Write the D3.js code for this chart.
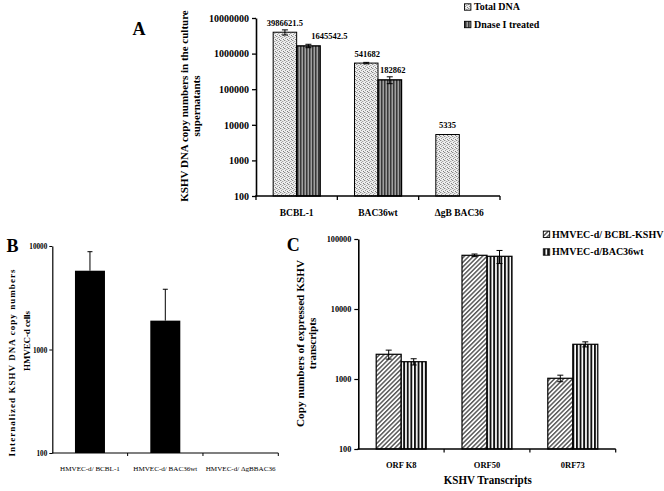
<!DOCTYPE html>
<html><head><meta charset="utf-8">
<script src="https://cdn.jsdelivr.net/npm/d3@7"></script>
<style>body{margin:0;background:#fff} svg{display:block} text{font-family:"Liberation Serif","Times New Roman",serif}</style>
</head><body><svg id="c" width="664" height="491"></svg>
<script>
// ---------- DATA ----------
// Panel A
const catsA = ["BCBL-1", "BAC36wt", "\u0394gB BAC36"];
const seriesA = ["Total DNA", "Dnase I treated"];
const totalDNA = [3986621.5, 541682, 5335];
const totalDNAErr = [650000, 25000, 0];
const dnaseTreated = [1645542.5, 182862, null];
const dnaseTreatedErr = [180000, 40000, 0];
const ticksA = [100, 1000, 10000, 100000, 1000000, 10000000];
// Panel B
const catsB = ["HMVEC-d/ BCBL-1", "HMVEC-d/ BAC36wt", "HMVEC-d/ \u0394gBBAC36"];
const internalized = [5770, 1900, null];
const internalizedErr = [3040, 1920, 0];
const ticksB = [100, 1000, 10000];
// Panel C
const catsC = ["ORF K8", "ORF50", "0RF73"];
const seriesC = ["HMVEC-d/ BCBL-KSHV", "HMVEC-d/BAC36wt"];
const bcblKSHV = [2255, 58500, 1024];
const bcblKSHVErr = [330, 2500, 110];
const bac36wt = [1766, 56600, 3133];
const bac36wtErr = [180, 12000, 260];
const ticksC = [100, 1000, 10000, 100000];

// ---------- DRAWING ----------
const svg = d3.select("#c");
const defs = svg.append("defs");
const FONT = '"Liberation Serif","Times New Roman",serif';

// patterns
const p1 = defs.append("pattern").attr("id", "stip").attr("patternUnits", "userSpaceOnUse").attr("width", 4).attr("height", 4);
p1.append("rect").attr("width", 4).attr("height", 4).attr("fill", "#eeeeee");
[[0,0,"#8a8a8a"],[2,1,"#a8a8a8"],[1,2,"#9a9a9a"],[3,3,"#7c7c7c"],[3,1,"#d0d0d0"],[1,0,"#c8c8c8"]].forEach(([x,y,c]) =>
  p1.append("rect").attr("x", x).attr("y", y).attr("width", 1).attr("height", 1).attr("fill", c));
const p2 = defs.append("pattern").attr("id", "vstripeA").attr("patternUnits", "userSpaceOnUse").attr("width", 3).attr("height", 10);
p2.append("rect").attr("width", 3).attr("height", 10).attr("fill", "#a0a0a0");
p2.append("rect").attr("width", 1.5).attr("height", 10).attr("fill", "#383838");
const p3 = defs.append("pattern").attr("id", "diag").attr("patternUnits", "userSpaceOnUse").attr("width", 3.2).attr("height", 3.2).attr("patternTransform", "rotate(45)");
p3.append("rect").attr("width", 3.2).attr("height", 3.2).attr("fill", "#ffffff");
p3.append("rect").attr("width", 1.5).attr("height", 3.2).attr("fill", "#5a5a5a");
const p4 = defs.append("pattern").attr("id", "vstripeC").attr("patternUnits", "userSpaceOnUse").attr("width", 3.6).attr("height", 10);
p4.append("rect").attr("width", 3.6).attr("height", 10).attr("fill", "#ffffff");
p4.append("rect").attr("width", 1.9).attr("height", 10).attr("fill", "#111111");

function styleYAxis(g, size, bold, compress) {
  g.attr("font-family", FONT).attr("font-size", size).attr("font-weight", bold ? "bold" : "normal");
  g.selectAll("text").attr("fill", "#000");
  if (compress) g.selectAll("text").each(function () {
    const t = d3.select(this); t.attr("textLength", t.text().length * compress).attr("lengthAdjust", "spacingAndGlyphs");
  });
}
function errBar(g, cx, y, v, e, cap, upOnly) {
  const top = y(v + e), bot = upOnly ? y(v) : y(Math.max(v - e, 1e-9));
  g.append("line").attr("x1", cx).attr("x2", cx).attr("y1", top).attr("y2", bot).attr("stroke", "#000").attr("stroke-width", 1);
  g.append("line").attr("x1", cx - cap / 2).attr("x2", cx + cap / 2).attr("y1", top).attr("y2", top).attr("stroke", "#000").attr("stroke-width", 1);
  if (!upOnly) g.append("line").attr("x1", cx - cap / 2).attr("x2", cx + cap / 2).attr("y1", bot).attr("y2", bot).attr("stroke", "#000").attr("stroke-width", 1);
}
function rotText(g, x, y, txt, size, opts = {}) {
  const t = g.append("text").attr("transform", `translate(${x},${y}) rotate(-90)`).attr("text-anchor", "middle")
    .attr("font-family", FONT).attr("font-size", size).attr("font-weight", "bold").text(txt);
  if (opts.len) t.attr("textLength", opts.len).attr("lengthAdjust", opts.adjust || "spacing");
  return t;
}

// ===== Panel A =====
(function () {
  const g = svg.append("g");
  const y = d3.scaleLog().domain([100, 1e7]).range([196, 18]);
  const x = d3.scaleBand().domain(catsA).range([256, 500]);
  const x1 = d3.scaleBand().domain(seriesA).range([0, x.bandwidth()]).paddingOuter(0.73);
  const vals = [totalDNA, dnaseTreated], errs = [totalDNAErr, dnaseTreatedErr], fills = ["url(#stip)", "url(#vstripeA)"];
  const labelShift = [[0, 1, 0], [21, 3, 0]];
  seriesA.forEach((s, si) => {
    catsA.forEach((c, ci) => {
      const v = vals[si][ci];
      if (v == null) return;
      const bx = x(c) + x1(s), bw = x1.bandwidth();
      g.append("rect").attr("x", bx).attr("y", y(v)).attr("width", bw).attr("height", y(100) - y(v))
        .attr("fill", fills[si]).attr("stroke", "#000").attr("stroke-width", si ? 1.4 : 1);
      if (errs[si][ci] > 0) errBar(g, bx + bw / 2, y, v, errs[si][ci], 6, false);
      g.append("text").attr("x", bx + bw / 2 + labelShift[si][ci]).attr("y", y(v) - 6.5).attr("text-anchor", "middle")
        .attr("font-family", FONT).attr("font-size", 8.5).attr("font-weight", "bold").text(String(v));
    });
  });
  const ya = g.append("g").attr("transform", "translate(256,0)")
    .call(d3.axisLeft(y).tickValues(ticksA).tickFormat(d3.format("d")).tickSize(4).tickSizeOuter(0).tickPadding(3));
  ya.select(".domain").attr("stroke-width", 1.6);
  ya.selectAll(".tick line").attr("stroke-width", 1.3);
  styleYAxis(ya, 10, true);
  g.append("line").attr("x1", 255.2).attr("x2", 500).attr("y1", 196).attr("y2", 196).attr("stroke", "#000").attr("stroke-width", 1.6);
  d3.range(catsA.length + 1).forEach(i => {
    const xx = x.range()[0] + i * x.step();
    g.append("line").attr("x1", xx).attr("x2", xx).attr("y1", 196).attr("y2", 200).attr("stroke", "#000").attr("stroke-width", 1.3);
  });
  const xa = g.append("g").attr("transform", "translate(0,196)").call(d3.axisBottom(x).tickSize(0).tickPadding(13));
  xa.select(".domain").remove();
  xa.attr("font-family", FONT).attr("font-size", 9.5).attr("font-weight", "bold");
  xa.selectAll("text").attr("fill", "#000");
  // title
  rotText(g, 188, 106, "KSHV DNA copy numbers in the culture", 11);
  rotText(g, 200, 106, "supernatants", 11);
  g.append("text").attr("x", 139).attr("y", 35).attr("text-anchor", "middle").attr("font-family", FONT)
    .attr("font-size", 18).attr("font-weight", "bold").text("A");
  // legend
  seriesA.forEach((s, si) => {
    const ly = 7 + si * 17.5;
    g.append("rect").attr("x", 464.5).attr("y", ly - 3.2).attr("width", 6.4).attr("height", 6.4)
      .attr("fill", fills[si]).attr("stroke", "#000").attr("stroke-width", 0.9);
    g.append("text").attr("x", 474).attr("y", ly + 3.4).attr("font-family", FONT).attr("font-size", 10)
      .attr("font-weight", "bold").text(s);
  });
})();

// ===== Panel B =====
(function () {
  const g = svg.append("g");
  const y = d3.scaleLog().domain([100, 10000]).range([453, 246]);
  const x = d3.scaleBand().domain(catsB).range([52.3, 278.3]);
  const barW = 30;
  catsB.forEach((c, ci) => {
    const v = internalized[ci];
    if (v == null) return;
    const bx = x(c) + (x.bandwidth() - barW) / 2;
    errBar(g, bx + barW / 2, y, v, internalizedErr[ci], 5, true);
    g.append("rect").attr("x", bx).attr("y", y(v)).attr("width", barW).attr("height", y(100) - y(v)).attr("fill", "#000");
  });
  const ya = g.append("g").attr("transform", "translate(52.3,0)")
    .call(d3.axisLeft(y).tickValues(ticksB).tickFormat(d3.format("d")).tickSize(3).tickSizeOuter(0).tickPadding(2));
  ya.select(".domain").attr("stroke-width", 1.2);
  styleYAxis(ya, 8.5, true, 3.6);
  g.append("line").attr("x1", 52).attr("x2", 278.3).attr("y1", 453).attr("y2", 453).attr("stroke", "#000").attr("stroke-width", 1.2);
  d3.range(1, catsB.length + 1).forEach(i => {
    const xx = x.range()[0] + i * x.step();
    g.append("line").attr("x1", xx).attr("x2", xx).attr("y1", 453).attr("y2", 456).attr("stroke", "#000").attr("stroke-width", 1);
  });
  const xa = g.append("g").attr("transform", "translate(0,453)").call(d3.axisBottom(x).tickSize(0).tickPadding(12.5));
  xa.select(".domain").remove();
  xa.attr("font-family", FONT).attr("font-size", 7.1).attr("font-weight", "normal");
  xa.selectAll("text").attr("fill", "#000");
  rotText(g, 15, 363, "Internalized KSHV DNA copy numbers", 9, { len: 187 });
  rotText(g, 29.5, 341, "HMVEC-d cells", 9, { len: 60 });
  g.append("text").attr("x", 12.5).attr("y", 251.7).attr("text-anchor", "middle").attr("font-family", FONT)
    .attr("font-size", 18).attr("font-weight", "bold").text("B");
})();

// ===== Panel C =====
(function () {
  const g = svg.append("g");
  const y = d3.scaleLog().domain([100, 100000]).range([449, 239]);
  const x = d3.scaleBand().domain(catsC).range([358.3, 615.7]);
  const x1 = d3.scaleBand().domain(seriesC).range([0, x.bandwidth()]).paddingOuter(0.716);
  const vals = [bcblKSHV, bac36wt], errs = [bcblKSHVErr, bac36wtErr], fills = ["url(#diag)", "url(#vstripeC)"];
  seriesC.forEach((s, si) => {
    catsC.forEach((c, ci) => {
      const v = vals[si][ci];
      const bx = x(c) + x1(s), bw = x1.bandwidth();
      g.append("rect").attr("x", bx).attr("y", y(v)).attr("width", bw).attr("height", y(100) - y(v))
        .attr("fill", fills[si]).attr("stroke", "#000").attr("stroke-width", 1.2);
      errBar(g, bx + bw / 2, y, v, errs[si][ci], 6, false);
    });
  });
  const ya = g.append("g").attr("transform", "translate(358.3,0)")
    .call(d3.axisLeft(y).tickValues(ticksC).tickFormat(d3.format("d")).tickSize(4).tickSizeOuter(0).tickPadding(3));
  ya.select(".domain").attr("stroke-width", 1.6);
  ya.selectAll(".tick line").attr("stroke-width", 1.2);
  styleYAxis(ya, 8, true, 4.1);
  g.append("line").attr("x1", 357.5).attr("x2", 615.7).attr("y1", 449).attr("y2", 449).attr("stroke", "#000").attr("stroke-width", 1.6);
  d3.range(1, catsC.length + 1).forEach(i => {
    const xx = x.range()[0] + i * x.step();
    g.append("line").attr("x1", xx).attr("x2", xx).attr("y1", 449).attr("y2", 452.5).attr("stroke", "#000").attr("stroke-width", 1.2);
  });
  const xa = g.append("g").attr("transform", "translate(0,449)").call(d3.axisBottom(x).tickSize(0).tickPadding(12.5));
  xa.select(".domain").remove();
  xa.attr("font-family", FONT).attr("font-size", 8.5).attr("font-weight", "bold");
  xa.selectAll("text").attr("fill", "#000");
  g.append("text").attr("x", 487.7).attr("y", 484).attr("text-anchor", "middle").attr("font-family", FONT)
    .attr("font-size", 12).attr("font-weight", "bold").attr("textLength", 88).attr("lengthAdjust", "spacingAndGlyphs").text("KSHV Transcripts");
  rotText(g, 303.5, 343.5, "Copy numbers of expressed KSHV", 11, { len: 167, adjust: "spacingAndGlyphs" });
  rotText(g, 315.5, 343.5, "transcripts", 11);
  g.append("text").attr("x", 293.3).attr("y", 250.7).attr("text-anchor", "middle").attr("font-family", FONT)
    .attr("font-size", 18).attr("font-weight", "bold").text("C");
  seriesC.forEach((s, si) => {
    const ly = 234.3 + si * 17.7;
    g.append("rect").attr("x", 543.3).attr("y", ly - 3.2).attr("width", 6.4).attr("height", 6.4)
      .attr("fill", fills[si]).attr("stroke", "#000").attr("stroke-width", 0.9);
    g.append("text").attr("x", 552).attr("y", ly + 3.4).attr("font-family", FONT).attr("font-size", 10)
      .attr("font-weight", "bold").text(s);
  });
})();
</script></body></html>
